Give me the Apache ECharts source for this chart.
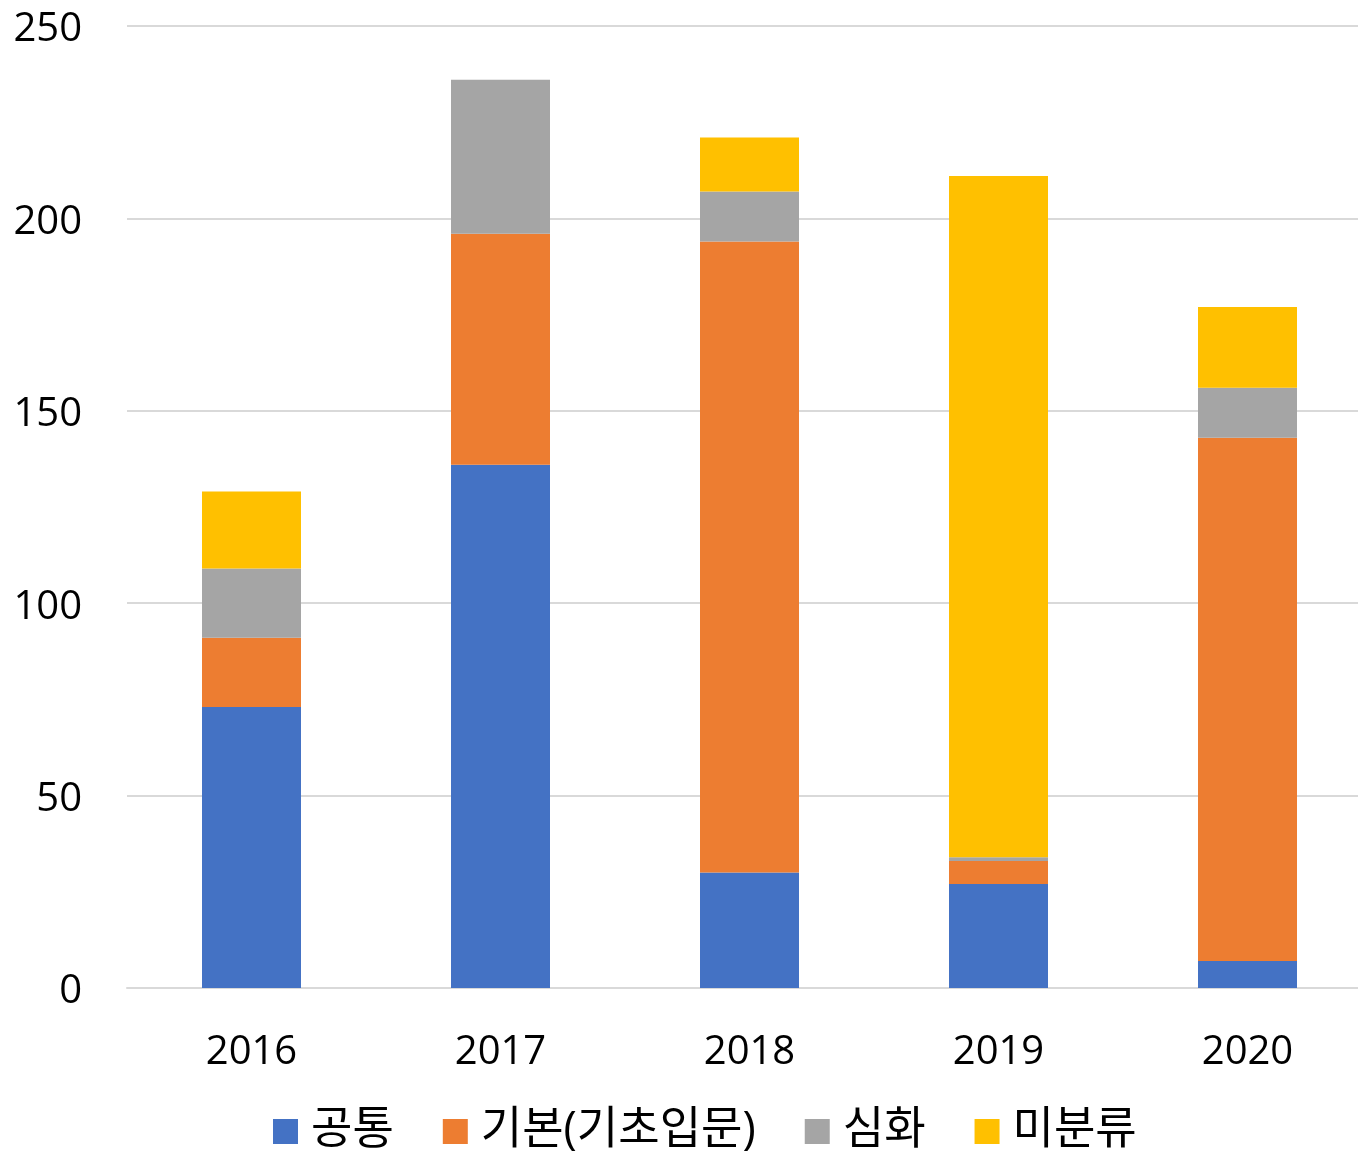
<!DOCTYPE html>
<html>
<head>
<meta charset="utf-8">
<script src="https://cdn.jsdelivr.net/npm/echarts@6/dist/echarts.min.js"></script>
<style>
  html, body { margin: 0; padding: 0; background: #fff; }
  #chart { width: 1358px; height: 1151px; }
</style>
</head>
<body>
<div id="chart"></div>
<script>
// 연도별 분류 현황 (누적 막대)
const years = ['2016', '2017', '2018', '2019', '2020'];
const common = [73, 136, 30, 27, 7];       // 공통
const basic = [18, 60, 164, 6, 136];       // 기본(기초입문)
const advanced = [18, 40, 13, 1, 13];      // 심화
const unclassified = [20, 0, 14, 177, 21]; // 미분류

const FONT = '"Open Sans", "Noto Sans CJK KR", sans-serif';

const chart = echarts.init(document.getElementById('chart'));

function barSeries(name, data, color) {
  return {
    name: name,
    type: 'bar',
    stack: 'total',
    data: data,
    barWidth: 99,
    itemStyle: { color: color },
    emphasis: { disabled: true }
  };
}

chart.setOption({
  backgroundColor: '#fff',
  animation: false,
  textStyle: { fontFamily: FONT },
  grid: {
    left: 127,
    width: 1245,
    top: 26,
    bottom: 163,
    outerBoundsMode: 'none'
  },
  legend: {
    top: 1109,
    left: 273,
    padding: 0,
    itemWidth: 25,
    itemHeight: 25,
    itemGap: 49,
    icon: 'rect',
    textStyle: { color: '#000', fontSize: 45, fontFamily: FONT, padding: [0, 0, 0, 8] },
    data: ['공통', '기본(기초입문)', '심화', '미분류']
  },
  xAxis: {
    type: 'category',
    data: years,
    axisLine: { show: true, lineStyle: { color: '#d9d9d9', width: 2 } },
    axisTick: { show: false },
    axisLabel: { color: '#000', fontSize: 40, fontFamily: FONT, margin: 45 }
  },
  yAxis: {
    type: 'value',
    min: 0,
    max: 250,
    interval: 50,
    axisLine: { show: false },
    axisTick: { show: false },
    axisLabel: {
      color: '#000',
      margin: 45,
      formatter: '{v|{value}}',
      rich: { v: { fontSize: 40, fontFamily: FONT, color: '#000', padding: [8, 0, 0, 0] } }
    },
    splitLine: { lineStyle: { color: '#d9d9d9', width: 2 } }
  },
  series: [
    barSeries('공통', common, '#4472c4'),
    barSeries('기본(기초입문)', basic, '#ed7d31'),
    barSeries('심화', advanced, '#a5a5a5'),
    barSeries('미분류', unclassified, '#ffc000')
  ]
});
</script>
</body>
</html>
